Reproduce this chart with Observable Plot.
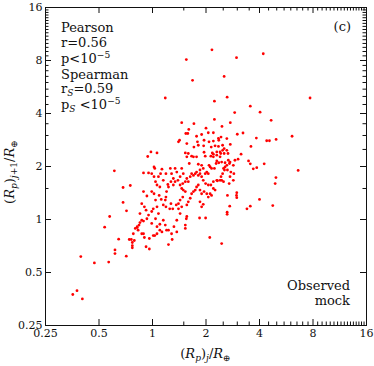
<!DOCTYPE html>
<html><head><meta charset="utf-8">
<script src="https://cdn.jsdelivr.net/npm/d3@7"></script>
<script src="https://cdn.jsdelivr.net/npm/@observablehq/plot@0.6"></script>
<style>body{margin:0;background:#fff}</style>
</head><body><div id="chart"></div>
<script>
// (R_p)_j / R_earth , (R_p)_{j+1} / R_earth
const outerPairs = [
[0.356,0.375],[0.376,0.394],[0.403,0.354],[0.395,0.616],[0.471,0.567],[0.567,0.573],
[0.538,0.904],[0.574,1.04],[0.61,1.89],[0.615,0.672],[0.615,0.64],[0.645,0.773],
[0.683,1.52],[0.683,1.25],[0.712,0.619],[0.714,1.12],[0.75,1.56],
[2.16,9.2],[4.2,8.74],[2.97,8.3],[1.55,8.1],[2.53,6.5],[1.68,6.17],[1.18,4.9],
[2.23,4.7],[2.63,4.95],[7.7,4.9],[3.55,4.4],[4.03,4.07],[2.9,4.05],[4.65,3.66],
[2.23,3.7],[1.46,3.55],[2.74,3.55],[2.46,3.38],[1.6,3.25],[2.0,3.3],[3.23,3.1],
[3.0,3.05],[6.1,2.97],[3.84,2.9],[4.39,2.8],[4.55,2.8],[4.96,2.85],[3.58,2.6],
[3.47,2.15],[4.25,2.07],[3.55,2.07],[3.69,1.94],[3.86,1.97],[3.15,2.35],[3.03,2.2],
[6.6,1.9],[4.95,1.73],[4.9,1.6],[4.0,1.3],[3.55,1.19],[3.4,1.15],[4.75,1.2],
[2.98,1.42],[2.98,1.33],[2.97,1.37],[2.72,1.19],[2.63,1.1],[2.63,1.07],[2.64,1.37],
[2.1,0.79],[2.45,0.73],[1.99,1.02],[1.84,1.02]
];
const lowerCorePairs = [
[0.94,2.28],[0.98,2.42],[1.06,2.39],[1.02,1.99],[1.03,1.95],[0.95,1.84],[0.99,1.82],
[1.02,1.75],[1.04,1.64],[1.06,1.57],[1.10,1.53],[0.99,1.44],[0.93,1.36],[1.02,1.40],
[1.04,1.29],[1.09,1.37],[1.12,1.30],[1.15,1.21],[1.18,1.29],[1.19,1.34],[1.20,1.44],
[1.23,1.53],[1.27,1.64],[1.31,1.71],[1.28,1.82],[1.26,1.95],[1.34,1.95],[1.37,1.86],
[1.15,1.67],[1.11,1.82],[1.08,1.75],[1.13,1.93],[1.19,1.82],[1.22,1.58],[0.89,1.44],
[0.87,1.23],[0.90,1.18],[0.92,1.13],[0.85,1.08],[0.87,0.99],[0.89,0.98],[0.93,1.01],
[0.95,1.06],[0.99,1.11],[1.01,1.15],[1.06,1.18],[1.08,1.08],[1.04,1.01],[0.99,0.95],
[1.06,0.91],[1.10,0.94],[1.15,0.99],[1.18,0.93],[1.20,0.87],[1.23,0.87],[1.13,0.85],
[1.10,0.87],[1.06,0.83],[1.01,0.81],[0.96,0.68],[0.96,0.78],[0.90,0.79],[0.87,0.83],
[0.83,0.87],[0.82,0.91],[0.78,0.83],[0.79,0.76],[0.77,0.74],[0.77,0.71],[0.77,0.69],
[0.76,0.77],[0.74,0.77],[0.80,0.89],[0.82,0.90],[0.84,0.93],[0.85,0.96],[0.89,0.83],
[0.92,0.70],[1.03,0.81],[1.23,0.72],[1.29,0.77],[1.28,0.83],[1.32,0.91],[1.37,0.85],
[1.37,0.99],[1.43,1.08],[1.40,1.15],[1.36,1.21],[1.30,1.15],[1.25,1.15],[1.27,1.23],
[1.19,1.18],[0.89,1.84]
];
const upperCorePairs = [
[1.40,2.76],[1.42,2.82],[1.53,2.39],[1.56,2.27],[1.59,2.37],[1.61,2.08],[1.66,2.29],
[1.70,2.27],[1.77,2.97],[1.79,2.76],[1.81,2.64],[1.89,3.04],[1.77,2.27],[1.81,2.06],
[1.89,2.03],[1.85,1.91],[1.93,1.95],[1.98,1.82],[2.02,1.86],[2.06,1.82],[2.08,2.03],
[2.13,2.29],[2.17,2.39],[2.20,2.27],[2.14,2.58],[2.20,2.79],[2.25,2.62],[2.35,2.89],
[2.36,2.82],[2.06,3.11],[1.94,2.62],[1.95,2.41],[1.46,1.95],[1.49,1.82],[1.43,1.75],
[1.39,1.67],[1.34,1.64],[1.31,1.57],[1.43,1.57],[1.48,1.60],[1.53,1.64],[1.56,1.71],
[1.59,1.64],[1.63,1.75],[1.66,1.82],[1.70,1.78],[1.74,1.82],[1.77,1.86],[1.81,1.78],
[1.85,1.82],[1.89,1.75],[1.93,1.67],[1.99,1.60],[2.06,1.57],[2.13,1.57],[2.20,1.64],
[2.30,1.67],[2.43,1.75],[2.48,1.82],[2.54,1.91],[2.62,2.03],[2.73,2.12],[2.71,2.08],
[2.64,1.91],[2.76,1.86],[2.73,1.75],[2.51,1.64],[2.40,1.67],[2.32,1.66],[1.46,1.50],
[1.49,1.47],[1.53,1.44],[1.48,1.34],[1.43,1.29],[1.40,1.23],[1.46,1.18],[1.56,1.21],
[1.59,1.26],[1.63,1.32],[1.66,1.40],[1.70,1.44],[1.74,1.47],[1.77,1.53],[1.81,1.57],
[1.85,1.47],[1.89,1.40],[1.95,1.44],[2.02,1.40],[2.11,1.40],[2.06,1.34],[2.20,1.50],
[2.25,1.47],[1.85,1.26],[1.89,1.18],[1.56,1.04],[1.55,1.01],[1.53,0.89],[1.53,0.93],
[2.30,2.42],[2.40,2.42],[2.48,2.47],[2.53,2.37],[2.62,2.47],[2.66,2.37],[2.74,2.67],
[2.62,2.88],[2.43,2.94],[2.48,2.64],[2.53,2.53],[2.11,1.99],[2.15,1.95],[2.23,1.95],
[2.28,2.08],[2.30,2.15],[2.36,2.10],[2.40,2.27],[2.45,2.12],[2.56,2.10],[2.67,2.17],
[2.85,2.03],[2.91,2.17],[2.45,1.67],[2.51,1.95],[2.56,1.99],[2.20,2.35],[2.42,2.37],
[2.87,1.82],[2.85,1.67],[2.70,1.60],[2.15,1.37],[1.93,1.22],[2.20,3.11],[2.35,2.60],
[2.08,2.76],[1.95,2.82],[1.98,2.29],[2.30,2.32],[1.71,3.50],[1.58,3.08],[1.54,3.08],
[1.56,2.70],[1.71,2.58]
];
const majorTicks = [0.25, 0.5, 1, 2, 4, 8, 16];
const minorTicks = [1.5, 2.5, 3, 3.5, 4.5, 5, 5.5, 6, 6.5, 7, 7.5,
  8.5, 9, 9.5, 10, 10.5, 11, 11.5, 12, 12.5, 13, 13.5, 14, 14.5, 15, 15.5];
const statLines = ["Pearson", "r=0.56", "p<10", "Spearman", "r", "p"];

const points = [...outerPairs, ...lowerCorePairs, ...upperCorePairs].map(([x, y]) => ({x, y}));

const W = 374, H = 366, ML = 45, MR = 8, MT = 7, MB = 41;
const FW = W - ML - MR, FH = H - MT - MB;
const serif = "DejaVu Serif";

const chart = Plot.plot({
  width: W, height: H,
  marginLeft: ML, marginRight: MR, marginTop: MT, marginBottom: MB,
  style: {fontFamily: serif, fontSize: "11px", background: "white", color: "#111"},
  x: {type: "log", base: 2, domain: [0.25, 16]},
  y: {type: "log", base: 2, domain: [0.25, 16]},
  marks: [
    Plot.dot(points, {x: "x", y: "y", r: 1.4, fill: "#ff0000", stroke: "none"}),
    Plot.axisX(majorTicks, {anchor: "bottom", tickSize: 0, tickPadding: 4, tickFormat: d => String(d), label: null, fontSize: 11}),
    Plot.axisY(majorTicks, {anchor: "left", tickSize: 0, tickPadding: 3, tickFormat: d => String(d), label: null, fontSize: 11}),
    Plot.tickX(majorTicks, {x: d => d, insetTop: FH - 6, stroke: "#111"}),
    Plot.tickX(majorTicks, {x: d => d, insetBottom: FH - 6, stroke: "#111"}),
    Plot.tickX(minorTicks, {x: d => d, insetTop: FH - 3.5, stroke: "#111"}),
    Plot.tickX(minorTicks, {x: d => d, insetBottom: FH - 3.5, stroke: "#111"}),
    Plot.tickY(majorTicks, {y: d => d, insetRight: FW - 6, stroke: "#111"}),
    Plot.tickY(majorTicks, {y: d => d, insetLeft: FW - 6, stroke: "#111"}),
    Plot.tickY(minorTicks, {y: d => d, insetRight: FW - 3.5, stroke: "#111"}),
    Plot.tickY(minorTicks, {y: d => d, insetLeft: FW - 3.5, stroke: "#111"}),
    Plot.frame({stroke: "#111", strokeWidth: 1})
  ]
});
document.getElementById("chart").appendChild(chart);

const svg = d3.select(chart);
const xr = chart.scale("x").range, yr = chart.scale("y").range;
const fLeft = Math.min(...xr), fRight = Math.max(...xr), fTop = Math.min(...yr), fBottom = Math.max(...yr);

function rich(x, y, parts, anchor = "start", size = 13, rotate = false) {
  const t = svg.append("text").attr("font-family", serif).attr("font-size", size)
    .attr("fill", "#111").attr("text-anchor", anchor);
  if (rotate) t.attr("transform", `translate(${x},${y}) rotate(-90)`);
  else t.attr("x", x).attr("y", y);
  let shift = 0;
  for (const p of parts) {
    const s = typeof p === "string" ? {t: p} : p;
    const target = s.sub ? 3 : s.sup ? -5 : 0;
    const ts = t.append("tspan").text(s.t).attr("dy", target - shift);
    shift = target;
    if (s.sub || s.sup) ts.attr("font-size", size * 0.7);
    if (s.it) ts.attr("font-style", "italic");
  }
}

const tx = fLeft + 16;
rich(tx, fTop + 25, [statLines[0]]);
rich(tx, fTop + 39.5, [statLines[1]]);
rich(tx, fTop + 55.5, [statLines[2], {t: "−5", sup: true}]);
rich(tx, fTop + 71.5, [statLines[3]]);
rich(tx, fTop + 86, [statLines[4], {t: "S", sub: true, it: true}, "=0.59"]);
rich(tx, fTop + 102, [statLines[5], {t: "S", sub: true, it: true}, " <10", {t: "−5", sup: true}]);
rich(fRight - 15, fTop + 24, ["(c)"], "end");
rich(fRight - 16, fBottom - 35, ["Observed"], "end");
rich(fRight - 16, fBottom - 20, ["mock"], "end");
rich((fLeft + fRight) / 2, H - 8, ["(", {t: "R", it: true}, {t: "p", sub: true, it: true}, ")", {t: "j", sub: true, it: true}, "/", {t: "R", it: true}, {t: "⊕", sub: true}], "middle");
rich(14, (fTop + fBottom) / 2 + 6, ["(", {t: "R", it: true}, {t: "p", sub: true, it: true}, ")", {t: "j", sub: true, it: true}, {t: "+1", sub: true}, "/", {t: "R", it: true}, {t: "⊕", sub: true}], "middle", 13, true);
</script>
</body></html>
